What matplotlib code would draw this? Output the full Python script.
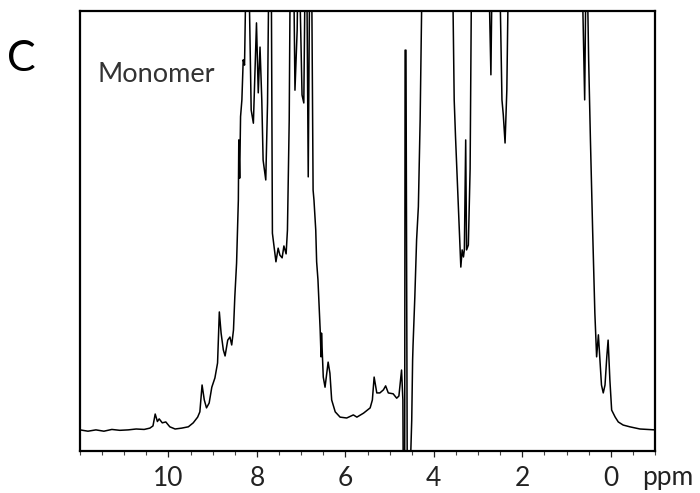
import numpy as np
import matplotlib.pyplot as plt

plt.rcParams['font.family'] = ['Lato', 'DejaVu Sans']

# chemical shift (ppm) and relative intensity
# (values above 1 run off the top of the frame, below 0 off the bottom)
ppm = [12.00, 11.82, 11.64, 11.46, 11.28, 11.10, 10.91, 10.73, 10.55, 10.42,
       10.35, 10.30, 10.25, 10.21, 10.14, 10.06, 9.97, 9.85, 9.70, 9.55,
       9.44, 9.34, 9.29, 9.24, 9.19, 9.14, 9.08, 9.02, 8.95, 8.89,
       8.85, 8.81, 8.76, 8.72, 8.66, 8.61, 8.57, 8.53, 8.50, 8.46,
       8.42, 8.41, 8.39, 8.37, 8.34, 8.31, 8.28, 8.23, 8.20, 8.13,
       8.08, 8.01, 7.97, 7.93, 7.89, 7.86, 7.80, 7.76, 7.72, 7.68,
       7.65, 7.59, 7.57, 7.52, 7.48, 7.43, 7.39, 7.34, 7.31, 7.27,
       7.24, 7.18, 7.14, 7.09, 7.06, 6.98, 6.94, 6.90, 6.88, 6.84,
       6.80, 6.77, 6.73, 6.71, 6.67, 6.65, 6.62, 6.57, 6.55, 6.54,
       6.50, 6.46, 6.39, 6.35, 6.31, 6.23, 6.12, 5.97, 5.82, 5.74,
       5.59, 5.44, 5.39, 5.35, 5.29, 5.22, 5.14, 5.09, 5.03, 4.92,
       4.84, 4.79, 4.73, 4.70, 4.69, 4.66, 4.65, 4.63, 4.60, 4.55,
       4.50, 4.48, 4.47, 4.43, 4.39, 4.35, 4.31, 4.25, 3.59, 3.54,
       3.51, 3.46, 3.39, 3.36, 3.33, 3.31, 3.28, 3.26, 3.22, 3.18,
       3.14, 2.78, 2.71, 2.67, 2.53, 2.46, 2.43, 2.39, 2.35, 2.30,
       0.67, 0.59, 0.55, 0.50, 0.46, 0.41, 0.36, 0.32, 0.28, 0.24,
       0.21, 0.17, 0.13, 0.09, 0.06, 0.02, -0.02, -0.10, -0.17, -0.28,
       -0.43, -0.66, -0.82, -1.00]
intensity = [0.048, 0.045, 0.048, 0.045, 0.049, 0.047, 0.048, 0.050, 0.049, 0.052,
             0.057, 0.084, 0.067, 0.073, 0.064, 0.066, 0.055, 0.050, 0.052, 0.055,
             0.064, 0.077, 0.089, 0.150, 0.116, 0.098, 0.109, 0.145, 0.166, 0.200,
             0.316, 0.268, 0.230, 0.216, 0.252, 0.259, 0.241, 0.275, 0.350, 0.427,
             0.570, 0.707, 0.620, 0.760, 0.798, 0.889, 0.877, 1.2, 1.2, 0.775,
             0.745, 0.973, 0.814, 0.918, 0.798, 0.661, 0.616, 0.791, 1.2, 1.2,
             0.495, 0.445, 0.430, 0.461, 0.445, 0.439, 0.466, 0.448, 0.502, 0.752,
             1.2, 1.2, 0.820, 0.957, 1.2, 0.809, 0.791, 1.2, 1.2, 0.623,
             1.2, 1.2, 0.593, 0.570, 0.502, 0.430, 0.389, 0.275, 0.214, 0.268,
             0.168, 0.145, 0.202, 0.177, 0.116, 0.089, 0.077, 0.075, 0.082, 0.077,
             0.086, 0.098, 0.116, 0.168, 0.132, 0.132, 0.139, 0.148, 0.132, 0.130,
             0.120, 0.125, 0.184, 0.116, -0.1, -0.1, 0.911, 0.911, -0.1, -0.1,
             0.070, 0.207, 0.241, 0.350, 0.480, 0.555, 0.752, 1.2, 1.2, 0.798,
             0.714, 0.593, 0.418, 0.457, 0.441, 0.458, 0.707, 0.457, 0.468, 0.641,
             1.2, 1.2, 0.855, 1.2, 1.2, 0.798, 0.764, 0.700, 0.820, 1.2,
             1.2, 0.798, 1.2, 0.889, 0.707, 0.502, 0.314, 0.214, 0.264, 0.200,
             0.150, 0.132, 0.150, 0.214, 0.252, 0.161, 0.093, 0.077, 0.066, 0.059,
             0.055, 0.050, 0.049, 0.048]

major_ticks = [10, 8, 6, 4, 2, 0]

fig = plt.figure(figsize=(7, 4.93), dpi=100)
ax = fig.add_axes([80 / 700, 42 / 493, 575 / 700, 440 / 493])
ax.plot(ppm, intensity, color='black', lw=1.1)

ax.set_xlim(12, -1)
ax.set_ylim(0, 1)
ax.set_xticks(major_ticks)
ax.set_xticks(np.arange(-1, 12.01, 0.5), minor=True)
ax.tick_params(axis='x', which='major', direction='out', length=4.5, width=0.9,
               labelsize=19, pad=6, colors='#222222')
ax.tick_params(axis='x', which='minor', direction='out', length=3, width=0.8,
               color='#444444')
ax.tick_params(axis='y', left=False, labelleft=False)
for s in ax.spines.values():
    s.set_linewidth(1.6)
    s.set_color('black')

fig.text(668 / 700, 1 - 485 / 493, 'ppm', fontsize=19, ha='center',
         va='baseline', color='#222222')
fig.text(7 / 700, 1 - 71 / 493, 'C', fontsize=31, va='baseline', color='black')
ax.text(97 / 700, 1 - 82 / 493, 'Monomer', transform=fig.transFigure,
        fontsize=19.5, va='baseline', color='#333333')

fig.savefig('out.png', dpi=100)
